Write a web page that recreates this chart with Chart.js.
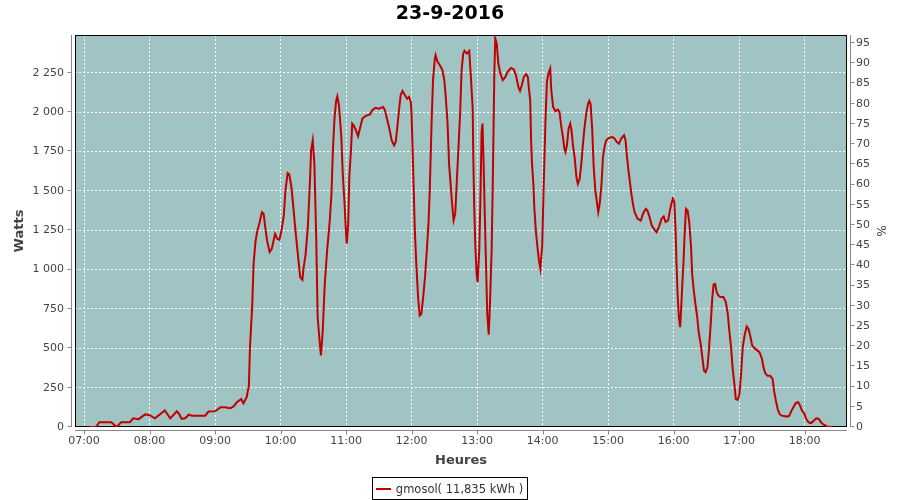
<!DOCTYPE html>
<html>
<head>
<meta charset="utf-8">
<title>23-9-2016</title>
<script src="https://cdn.jsdelivr.net/npm/chart.js@4.4.1/dist/chart.umd.min.js"></script>
<style>
    html, body { margin: 0; padding: 0; background: #fff; }
    #wrap { position: relative; width: 900px; height: 500px; }
    #legend { position: absolute; left: 0; right: 0; top: 477px; display: flex; justify-content: center; }
    .legend-box { box-sizing: border-box; height: 23px; border: 1px solid #000; display: flex; align-items: center;
                  padding: 0 4px 0 3px; font: 11.5px "DejaVu Sans", sans-serif; color: #333; white-space: nowrap; }
    .legend-box .swatch { width: 15px; height: 2px; margin-right: 5px; }
</style>
</head>
<body>
<div id="wrap">
    <canvas id="chart" width="900" height="500"></canvas>
    <div id="legend"></div>
</div>
<script>
const chartTitle = '23-9-2016';
const seriesLabel = 'gmosol( 11,835 kWh )';

// sample times (hh:mm[:ss]) and power in watts
const times = [
    '07:05', '07:11', '07:14', '07:25', '07:30', '07:34', '07:42', '07:45', '07:50', '07:56',
    '08:00', '08:05', '08:14', '08:19', '08:25', '08:27', '08:29:30', '08:32:30', '08:36', '08:39', '08:51', '08:54',
    '09:00', '09:05', '09:09', '09:14', '09:17', '09:20', '09:24', '09:26', '09:29', '09:31', '09:32', '09:34',
    '09:35:20', '09:37', '09:38:30', '09:40:30', '09:43', '09:44:30', '09:46', '09:47:40', '09:50', '09:52', '09:55', '09:57', '09:59',
    '10:01', '10:03', '10:04:30', '10:06:30', '10:08', '10:10', '10:12', '10:13:40', '10:15:40', '10:18', '10:20', '10:21',
    '10:23', '10:25', '10:27', '10:28', '10:29:30', '10:31', '10:32:40', '10:34', '10:36', '10:37', '10:38:40', '10:40:30',
    '10:42:40', '10:45', '10:46:40', '10:48', '10:49:30', '10:51', '10:52', '10:53:30', '10:54:20', '10:55:40', '10:57',
    '10:58:40', '10:59:50',
    '11:00:40', '11:02', '11:03', '11:04:30', '11:05:40', '11:07', '11:09', '11:11', '11:12:40', '11:15', '11:18', '11:22',
    '11:24', '11:27', '11:30', '11:34', '11:35:40', '11:37:50', '11:40', '11:41:50', '11:44', '11:45:30', '11:47', '11:48:30',
    '11:50', '11:51:40', '11:54', '11:56', '11:57:40', '11:59:20',
    '12:00', '12:01:20', '12:03', '12:04:30', '12:06', '12:07:30', '12:09', '12:10:40', '12:12:20', '12:14', '12:15:30',
    '12:16:40', '12:18:20', '12:19:40', '12:21:20', '12:22', '12:23:50', '12:26', '12:28:20', '12:30', '12:31:20', '12:33',
    '12:34:20', '12:36', '12:37', '12:38:30', '12:40', '12:41:30', '12:43', '12:44:30', '12:45:50', '12:47:20', '12:48:30',
    '12:50:40', '12:52:50', '12:54:20', '12:56', '12:56:30', '12:57:20', '12:58:20', '12:59:40',
    '13:00:30', '13:02', '13:03', '13:04:10', '13:05', '13:06', '13:07:10', '13:08:20', '13:09:20', '13:10:40', '13:11:50',
    '13:13:20', '13:14:20', '13:15:10', '13:15:50', '13:16:40', '13:18', '13:19:30', '13:21:20', '13:23:30', '13:25:40',
    '13:28', '13:31', '13:33:40', '13:35:40', '13:37:50', '13:39:20', '13:41', '13:42:50', '13:45', '13:46:30', '13:47:20',
    '13:48:40', '13:49:30', '13:50:20', '13:51:40', '13:52:30', '13:53:50', '13:55', '13:56:40', '13:58', '13:59:40',
    '14:01', '14:02:40', '14:04', '14:05:20', '14:07', '14:08', '14:09:40', '14:11:50', '14:14', '14:15:30', '14:17',
    '14:18:40', '14:20', '14:21', '14:22:20', '14:23:50', '14:25:20', '14:26:30', '14:27:50', '14:29:20', '14:31', '14:32:20',
    '14:34', '14:35:30', '14:37', '14:38:30', '14:40', '14:41:40', '14:42:50', '14:44', '14:45:30', '14:46:50', '14:48:20',
    '14:50', '14:51', '14:52:20', '14:54', '14:55:20', '14:57', '14:58:20',
    '15:01', '15:04', '15:06', '15:08', '15:10', '15:12', '15:14:40', '15:16', '15:17:20', '15:18:40', '15:20', '15:21:20',
    '15:23', '15:24:20', '15:27', '15:30', '15:32', '15:34:30', '15:36', '15:38', '15:40', '15:43', '15:44:20', '15:46:30',
    '15:49', '15:51', '15:52:40', '15:55', '15:56:40', '15:58', '15:59:20',
    '16:00:40', '16:01:50', '16:02:40', '16:03:40', '16:04:50', '16:06', '16:07', '16:08', '16:09', '16:10', '16:11:20',
    '16:12:50', '16:14:20', '16:16', '16:17', '16:18:40', '16:20', '16:21:40', '16:23', '16:24:50', '16:26:20', '16:27:50',
    '16:29:20', '16:31', '16:32:20', '16:34', '16:35:30', '16:36:40', '16:38', '16:39:30', '16:41', '16:43', '16:45:40',
    '16:47:50', '16:49:40', '16:51', '16:52:40', '16:54', '16:55:40', '16:57', '16:58:50',
    '17:00:20', '17:01:50', '17:03:20', '17:05', '17:07', '17:08:40', '17:10:30', '17:12', '17:14', '17:16', '17:18:40',
    '17:21', '17:22:20', '17:24', '17:26', '17:28:30', '17:30:40', '17:32', '17:33:40', '17:35:20', '17:37', '17:39',
    '17:44', '17:46', '17:48', '17:50', '17:52', '17:54', '17:55:30', '17:57:40', '17:59:40',
    '18:01:30', '18:03:40', '18:06', '18:08:20', '18:10:40', '18:13', '18:15', '18:17:30', '18:20:30', '18:25'
];
const watts = [
    0, 0, 30, 30, 0, 30, 30, 55, 50, 80,
    75, 55, 105, 55, 100, 83, 51, 55, 78, 72, 72, 98,
    100, 125, 125, 119, 131, 157, 178, 150, 189, 263, 507, 761,
    1037, 1174, 1238, 1291, 1365, 1355, 1270, 1185, 1111, 1132, 1227, 1196, 1189,
    1253, 1344, 1503, 1613, 1605, 1524, 1376, 1249, 1111, 952, 935, 1005,
    1100, 1270, 1567, 1757, 1821, 1673, 1206, 697, 528, 454, 613, 909,
    1121, 1302, 1482, 1768, 1969, 2075, 2101, 2044, 1969, 1842, 1609,
    1418, 1249,
    1164, 1291, 1588, 1757, 1927, 1916, 1885, 1847, 1895, 1959, 1976, 1986,
    2012, 2027, 2022, 2033, 2012, 1948, 1885, 1821, 1789, 1810, 1906, 2012,
    2107, 2135, 2107, 2086, 2097, 2065,
    1991, 1673, 1249, 1015, 825, 708, 719, 825, 952, 1121, 1291,
    1503, 1927, 2203, 2340, 2362, 2319, 2298, 2266, 2203, 2097, 1927,
    1673, 1524, 1429, 1312, 1355, 1567, 1779, 1991, 2266, 2372, 2389,
    2372, 2389, 2224, 2022, 1736, 1418, 1164, 963,
    920, 1121, 1418, 1874, 1927, 1673, 1323, 994, 719, 587, 782,
    1121, 1524, 1927, 2245, 2468, 2436, 2309, 2245, 2203, 2220,
    2256, 2281, 2271, 2234, 2160, 2135, 2171, 2224, 2241, 2224, 2160,
    2075, 1821, 1673, 1535, 1386, 1249, 1164, 1058, 1005, 1153,
    1524, 1948, 2192, 2245, 2277, 2139, 2033, 2006, 2016, 2001, 1916,
    1842, 1768, 1747, 1789, 1895, 1927, 1885, 1789, 1715, 1588, 1545,
    1577, 1673, 1800, 1906, 1991, 2054, 2071, 2050, 1885, 1651, 1503,
    1418, 1365, 1418, 1545, 1715, 1789, 1821,
    1838, 1842, 1832, 1810, 1800, 1832, 1853, 1821, 1715, 1630, 1556, 1482,
    1408, 1365, 1323, 1312, 1355, 1386, 1376, 1333, 1280, 1249, 1238, 1270,
    1323, 1338, 1302, 1312, 1376, 1418, 1450,
    1429, 1249, 1037, 846, 697, 634, 761, 909, 1037, 1206, 1386,
    1376, 1302, 1143, 973, 856, 782, 697, 602, 528, 443, 358,
    348, 379, 485, 655, 825, 905, 909, 856, 835, 825, 825,
    793, 719, 613, 507, 379, 274, 178, 172,
    210, 337, 507, 581, 638, 623, 570, 517, 502, 490, 475,
    432, 379, 341, 326, 326, 305, 231, 168, 114, 83, 72,
    66, 72, 104, 129, 153, 157, 142, 104, 87,
    51, 30, 25, 40, 55, 51, 30, 15, 4, 0
];

const hourTicks = ['07:00', '08:00', '09:00', '10:00', '11:00', '12:00', '13:00', '14:00', '15:00', '16:00', '17:00', '18:00'];
const wattTicks = [0, 250, 500, 750, 1000, 1250, 1500, 1750, 2000, 2250];
const percentTicks = [0, 5, 10, 15, 20, 25, 30, 35, 40, 45, 50, 55, 60, 65, 70, 75, 80, 85, 90, 95];
const timeRange = ['06:51:45', '18:38:50'];
const wattMax = 2490;
const percentMax = 97;

const plotBg = '#a0c4c4';
const lineColor = '#c00000';
const axisGrey = '#888888';
const textGrey = '#444444';

const toHours = t => {
    const p = t.split(':').map(Number);
    return p[0] + p[1] / 60 + (p[2] || 0) / 3600;
};
const fmtWatts = v => {
    const s = String(Math.round(v));
    return s.length > 3 ? s.slice(0, -3) + ' ' + s.slice(-3) : s;
};

// plot area in canvas pixels (left/right/top/bottom)
const area = { left: 75, right: 847, top: 35, bottom: 427 };

Chart.defaults.font.family = '"DejaVu Sans", sans-serif';
Chart.defaults.color = textGrey;

// background, frame, offset axis lines and tick marks (JFreeChart look)
const plotFrame = {
    id: 'plotFrame',
    beforeDraw(chart) {
        const { ctx, chartArea: a } = chart;
        ctx.save();
        ctx.fillStyle = plotBg;
        ctx.fillRect(a.left, a.top, a.right - a.left, a.bottom - a.top);
        ctx.restore();
    },
    // frame goes under the series so the red line stays on top of it
    beforeDatasetsDraw(chart) {
        const { ctx, chartArea: a } = chart;
        const L = Math.round(a.left), R = Math.round(a.right), T = Math.round(a.top), B = Math.round(a.bottom);
        ctx.save();
        ctx.lineWidth = 1;
        ctx.strokeStyle = '#000';
        ctx.strokeRect(L + 0.5, T + 0.5, R - L - 1, B - T - 1);
        ctx.restore();
    },
    afterDraw(chart) {
        const { ctx, chartArea: a, scales } = chart;
        const L = Math.round(a.left), R = Math.round(a.right), T = Math.round(a.top), B = Math.round(a.bottom);
        ctx.save();
        ctx.lineWidth = 1;
        ctx.strokeStyle = axisGrey;
        ctx.beginPath();
        // left axis
        const lx = L - 4 + 0.5;
        ctx.moveTo(lx, T); ctx.lineTo(lx, B);
        scales.y.ticks.forEach(t => {
            const py = Math.round(scales.y.getPixelForValue(t.value)) - 0.5;
            ctx.moveTo(lx - 4, py); ctx.lineTo(lx, py);
        });
        // right axis
        const rx = R + 4 - 0.5;
        ctx.moveTo(rx, T); ctx.lineTo(rx, B);
        scales.y1.ticks.forEach(t => {
            const py = Math.round(scales.y1.getPixelForValue(t.value)) - 0.5;
            ctx.moveTo(rx, py); ctx.lineTo(rx + 4, py);
        });
        // bottom axis
        const by = B + 3 + 0.5;
        ctx.moveTo(L, by); ctx.lineTo(R, by);
        scales.x.ticks.forEach(t => {
            const px = Math.round(scales.x.getPixelForValue(t.value)) + 0.5;
            ctx.moveTo(px, by); ctx.lineTo(px, by + 4);
        });
        ctx.stroke();
        ctx.restore();
    }
};

const gridOpts = {
    color: '#ffffff',
    lineWidth: 1,
    drawTicks: true,
    tickLength: 8,
    tickColor: 'rgba(0,0,0,0)'
};

const chart = new Chart(document.getElementById('chart'), {
    type: 'line',
    data: {
        datasets: [{
            label: seriesLabel,
            data: times.map((t, i) => ({ x: toHours(t), y: watts[i] })),
            borderColor: lineColor,
            backgroundColor: lineColor,
            borderWidth: 2,
            pointRadius: 0,
            tension: 0,
            fill: false,
            yAxisID: 'y'
        }]
    },
    options: {
        responsive: false,
        animation: false,
        devicePixelRatio: 1,
        layout: { padding: 0 },
        plugins: {
            legend: { display: false },
            tooltip: { enabled: false },
            title: {
                display: true,
                text: chartTitle,
                color: '#000',
                font: { size: 19, weight: 'bold' },
                padding: { top: 2.6, bottom: 9.6 }
            }
        },
        scales: {
            x: {
                type: 'linear',
                position: 'bottom',
                min: toHours(timeRange[0]),
                max: toHours(timeRange[1]),
                afterFit: s => { s.height = 500 - area.bottom; },
                afterBuildTicks: s => { s.ticks = hourTicks.map(h => ({ value: toHours(h) })); },
                ticks: {
                    autoSkip: false,
                    maxRotation: 0,
                    padding: 0,
                    color: textGrey,
                    font: { size: 11 },
                    callback: (v, i) => hourTicks[i]
                },
                grid: gridOpts,
                border: { display: false, dash: [2, 2] },
                title: {
                    display: true,
                    text: 'Heures',
                    color: textGrey,
                    font: { size: 13, weight: 'bold' },
                    padding: { top: 0, bottom: 32 }
                }
            },
            y: {
                position: 'left',
                min: 0,
                max: wattMax,
                afterFit: s => { s.width = area.left; },
                afterBuildTicks: s => { s.ticks = wattTicks.map(v => ({ value: v })); },
                ticks: {
                    padding: 3,
                    color: textGrey,
                    font: { size: 11 },
                    callback: v => fmtWatts(v)
                },
                grid: gridOpts,
                border: { display: false, dash: [2, 2] },
                title: {
                    display: true,
                    text: 'Watts',
                    color: textGrey,
                    font: { size: 13, weight: 'bold' },
                    padding: { top: 12, bottom: 0 }
                }
            },
            y1: {
                position: 'right',
                min: 0,
                max: percentMax,
                afterFit: s => { s.width = 900 - area.right; },
                afterBuildTicks: s => { s.ticks = percentTicks.map(v => ({ value: v })); },
                ticks: {
                    padding: 1,
                    color: textGrey,
                    font: { size: 11 },
                    callback: v => String(v)
                },
                grid: Object.assign({}, gridOpts, { drawOnChartArea: false }),
                border: { display: false },
                title: {
                    display: true,
                    text: '%',
                    color: textGrey,
                    font: { size: 12 },
                    padding: { top: 13, bottom: 0 }
                }
            }
        }
    },
    plugins: [plotFrame]
});

// legend built from the chart's own datasets
const legendEl = document.getElementById('legend');
chart.data.datasets.forEach(ds => {
    const box = document.createElement('div');
    box.className = 'legend-box';
    const sw = document.createElement('span');
    sw.className = 'swatch';
    sw.style.background = ds.borderColor;
    const txt = document.createElement('span');
    txt.textContent = ds.label;
    box.appendChild(sw);
    box.appendChild(txt);
    legendEl.appendChild(box);
});
</script>
</body>
</html>
